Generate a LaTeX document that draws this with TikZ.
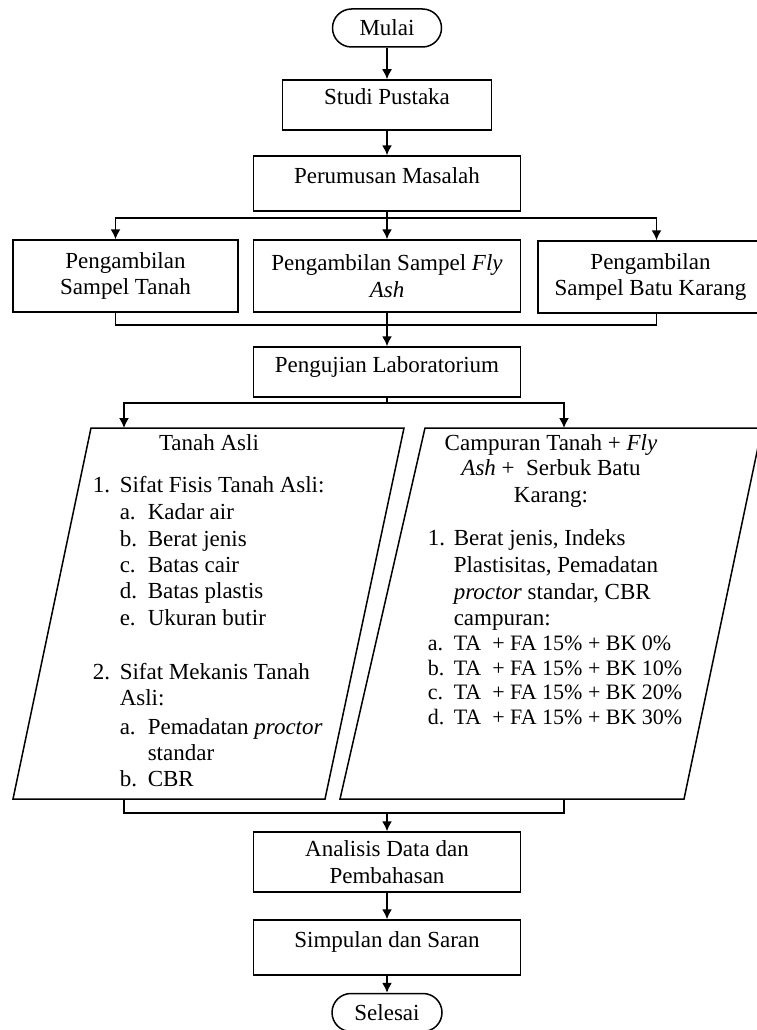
\documentclass[tikz,border=0pt]{standalone}
\usepackage{fontspec}
\setmainfont{Liberation Serif}
\usetikzlibrary{arrows.meta}
\begin{document}
\begin{tikzpicture}[x=1pt,y=-1pt,line width=1.5pt,font=\fontsize{23}{26.5}\selectfont,
	kotak/.style={draw,minimum height=50pt,inner sep=0pt,align=center},
	satu/.style={text height=16pt,text depth=16pt},
	ujung/.style={draw,minimum width=109pt,minimum height=38pt,rounded corners=19pt,inner sep=0pt},
	teks/.style={anchor=base west,inner sep=0pt},
	kecil/.style={teks,font=\fontsize{22}{24}\selectfont},
	panah/.style={-{Latex[length=10pt,width=10pt]}}]
	\useasboundingbox (0,0) rectangle (757,1030);
	\node[ujung] (mulai) at (387,28) {Mulai};
	\node[kotak,satu,minimum width=209pt] (studi) at (387,105) {Studi Pustaka};
	\node[kotak,satu,minimum width=267pt,minimum height=55pt] (rumus) at (387,183.5) {Perumusan Masalah};
	\node[kotak,minimum width=225pt,minimum height=72pt] (tanah) at (125.5,276) {Pengambilan\\Sampel Tanah};
	\node[kotak,minimum width=267pt,minimum height=72pt] (flyash) at (387,276) {Pengambilan Sampel \textit{Fly}\\\textit{Ash}};
	\node[kotak,minimum width=225pt,minimum height=72pt] (karang) at (650.5,277) {Pengambilan\\Sampel Batu Karang};
	\node[kotak,satu,minimum width=267pt] (uji) at (387,372) {Pengujian Laboratorium};
	\node[kotak,minimum width=267pt,minimum height=60pt] (analisis) at (387,862) {Analisis Data dan\\Pembahasan};
	\node[kotak,satu,minimum width=267pt,minimum height=55pt] (simpulan) at (387,947.5) {Simpulan dan Saran};
	\node[ujung,minimum width=110pt] (selesai) at (387,1012.5) {Selesai};
	\path (387,218) coordinate (cab1) (387,325) coordinate (gab1)
		(387,403) coordinate (cab2) (387,813) coordinate (gab2)
		(91,428) coordinate (ki1) (404,428) coordinate (ki2) (325,799) coordinate (ki3) (13,799) coordinate (ki4)
		(425,428) coordinate (ka1) (762,428) coordinate (ka2) (684,799) coordinate (ka3) (340,799) coordinate (ka4)
		(124,428) coordinate (kiatas) (564,428) coordinate (kaatas)
		(124,799) coordinate (kibawah) (564,799) coordinate (kabawah);
	\draw (ki1)--(ki2)--(ki3)--(ki4)--cycle (ka1)--(ka2)--(ka3)--(ka4)--cycle;
	% tanah asli
	\node[anchor=base,inner sep=0pt] (judulki) at (209,450.5) {Tanah Asli};
	\foreach \x/\y/\t [count=\i] in {92/492.5/1., 119/492.5/Sifat Fisis Tanah Asli:,
		119/519.5/a., 147/519.5/Kadar air, 119/546.5/b., 147/546.5/Berat jenis,
		119/572.5/c., 147/572.5/Batas cair, 119/598.5/d., 147/598.5/Batas plastis,
		119/625.5/e., 147/625.5/Ukuran butir, 92/679.5/2., 119/679.5/Sifat Mekanis Tanah,
		119/705.5/Asli:, 119/734.5/a., 147/734.5/Pemadatan \textit{proctor},
		147/760.5/standar, 119/786.5/b., 147/786.5/CBR}{
		\node[teks] (ki-\i) at (\x,\y) {\t};
	}
	% campuran
	\foreach \y/\t [count=\i] in {450.5/Campuran Tanah + \textit{Fly}, 475.5/\textit{Ash} + \ Serbuk Batu, 502.5/Karang:}{
		\node[anchor=base,inner sep=0pt] (judulka\i) at (551,\y) {\t};
	}
	\foreach \x/\y/\t [count=\i] in {427/545.5/1., 453/545.5/{Berat jenis, Indeks},
		453/572.5/{Plastisitas, Pemadatan}, 453/599.5/{\textit{proctor} standar, CBR},
		453/625.5/campuran:}{
		\node[teks] (ka-\i) at (\x,\y) {\t};
	}
	\foreach \h/\y/\p [count=\i] in {a./650.5/0, b./675.5/10, c./699.5/20, d./724.5/30}{
		\node[kecil] (huruf\i) at (427,\y) {\h};
		\node[kecil] (campur\i) at (453,\y) {TA \ + FA 15\% + BK \p\%};
	}
	% panah
	\draw[panah] (mulai)--(studi);
	\draw[panah] (studi)--(rumus);
	\draw (rumus)--(cab1);
	\draw[panah] (cab1)--(flyash);
	\draw[panah] (cab1)-|([xshift=-10pt]tanah.north);
	\draw[panah] (cab1)-|([xshift=6pt]karang.north);
	\draw ([xshift=-10pt]tanah.south)|-(gab1)-|([xshift=6pt]karang.south);
	\draw (flyash)--(gab1);
	\draw[panah] (gab1)--(uji);
	\draw (uji)--(cab2);
	\draw[panah] (cab2)-|(kiatas);
	\draw[panah] (cab2)-|(kaatas);
	\draw (kibawah)|-(gab2)-|(kabawah);
	\draw[panah] (gab2)--(analisis);
	\draw[panah] (analisis)--(simpulan);
	\draw[panah] (simpulan)--(selesai);
\end{tikzpicture}
\end{document}
